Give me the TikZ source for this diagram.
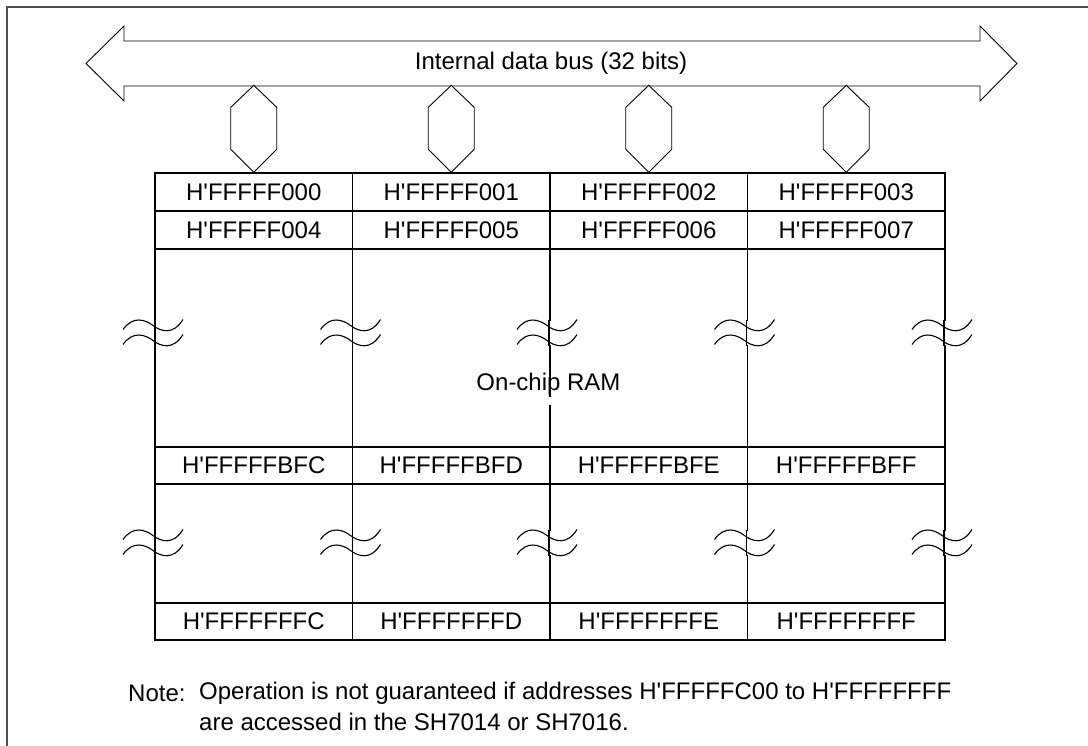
\documentclass[tikz,border=0pt]{standalone}
\usepackage{fontspec}
\setmainfont{Liberation Sans}
\usetikzlibrary{calc}
\newcommand{\hq}{H\textquotesingle}
\begin{document}
\begin{tikzpicture}[x=1pt,y=-1pt,
  txt/.style={font=\fontsize{24}{28}\selectfont},
  cell/.style={draw, line width=1.3pt, minimum width=197.5pt, minimum height=38pt, inner sep=0pt, txt},
  region/.style={draw, line width=1.3pt, minimum width=197.5pt, inner sep=0pt},
  thin/.style={line width=0.9pt},
  frameline/.style={line width=1.6pt, draw=black!70},
  brk/.pic={
    \fill[white] (-20,-12) rectangle (20,12);
    \draw[line width=1.1pt] (-32,-3.5) .. controls (-22,-17.5) and (-10,-13.5) .. (-2,-7.5) .. controls (6,-1.5) and (18,2.5) .. (28,-13.5);
    \draw[line width=1.1pt] (-32,11.5) .. controls (-22,-2.5) and (-10,1.5) .. (-2,7.5) .. controls (6,13.5) and (18,17.5) .. (28,1.5);
  }]
\useasboundingbox (0,0) rectangle (1088,746);
% outer frame
\draw[frameline] (7,760) -- (7,7) -- (1100,7);

% internal bus double arrow
\draw[thin, fill=white] (86,63.5) -- (124,26) -- (124,41) -- (980,41) -- (980,26) -- (1017,63.5) -- (980,101) -- (980,86) -- (124,86) -- (124,101) -- cycle;
\node[txt] (bus) at (551,63.5) {Internal data bus (32 bits)};

% regions (drawn first)
\foreach \c/\x in {0/253.75,1/451.25,2/648.75,3/846.25}{
  \node[region, minimum height=198pt] (ra\c) at (\x,348) {};
  \node[region, minimum height=119pt] (rb\c) at (\x,543.5) {};
}

% cells
\node[cell] (a0) at (253.75,192) {\hq FFFFF000};
\node[cell] (a1) at (451.25,192) {\hq FFFFF001};
\node[cell] (a2) at (648.75,192) {\hq FFFFF002};
\node[cell] (a3) at (846.25,192) {\hq FFFFF003};
\node[cell] (b0) at (253.75,230) {\hq FFFFF004};
\node[cell] (b1) at (451.25,230) {\hq FFFFF005};
\node[cell] (b2) at (648.75,230) {\hq FFFFF006};
\node[cell] (b3) at (846.25,230) {\hq FFFFF007};
\node[cell, minimum height=37pt] (c0) at (253.75,465.5) {\hq FFFFFBFC};
\node[cell, minimum height=37pt] (c1) at (451.25,465.5) {\hq FFFFFBFD};
\node[cell, minimum height=37pt] (c2) at (648.75,465.5) {\hq FFFFFBFE};
\node[cell, minimum height=37pt] (c3) at (846.25,465.5) {\hq FFFFFBFF};
\node[cell, minimum height=37pt] (d0) at (253.75,621.5) {\hq FFFFFFFC};
\node[cell, minimum height=37pt] (d1) at (451.25,621.5) {\hq FFFFFFFD};
\node[cell, minimum height=37pt] (d2) at (648.75,621.5) {\hq FFFFFFFE};
\node[cell, minimum height=37pt] (d3) at (846.25,621.5) {\hq FFFFFFFF};

% hexagon connectors between bus and top cells
\foreach \c in {0,1,2,3}{
  \draw[thin, fill=white] (a\c.north) -- ++(-23,-23) -- ++(0,-42) -- ++(23,-22) -- ++(23,22) -- ++(0,42) -- cycle;
}

% break marks
\foreach \x in {155,352.5,549,746.5,944}{
  \pic at (\x,333) {brk};
  \pic at (\x,543) {brk};
}
% redraw vertical lines through breaks
\foreach \x in {155,352.5,549,746.5,944}{
  \draw[line width=1.3pt] (\x,320) -- (\x,346);
  \draw[line width=1.3pt] (\x,530) -- (\x,556);
}

% small gap in the middle line below the label
\fill[white] (545,397) rectangle (553,405);
\node[txt, inner sep=0pt] (ram) at (548.5,384) {On-chip RAM};

% note
\node[txt, anchor=west, inner sep=0pt] (nt) at (128,693) {Note:};
\node[txt, anchor=west, inner sep=0pt] (n1) at (199,693) {Operation is not guaranteed if addresses \hq FFFFFC00 to \hq FFFFFFFF};
\node[txt, anchor=west, inner sep=0pt] (n2) at (199,722) {are accessed in the SH7014 or SH7016.};
\end{tikzpicture}
\end{document}
